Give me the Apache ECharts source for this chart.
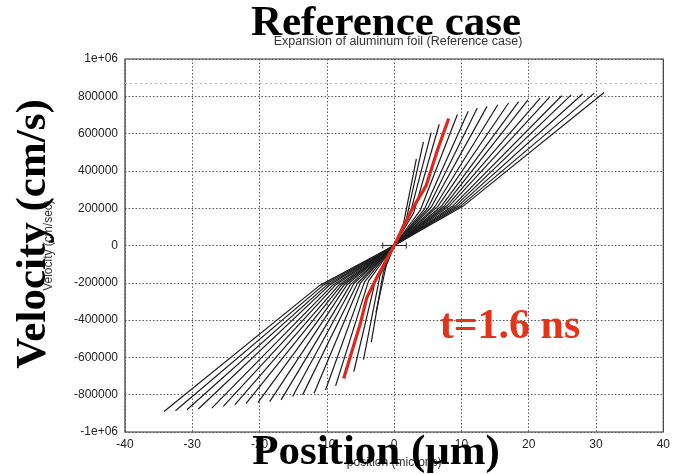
<!DOCTYPE html>
<html>
<head>
<meta charset="utf-8">
<script src="https://cdn.jsdelivr.net/npm/echarts@6/dist/echarts.min.js"></script>
<style>
html,body{margin:0;padding:0;background:#fff;}
#chart{width:673px;height:474px;}
</style>
</head>
<body>
<div id="chart"></div>
<script>
// ---- Data ----
// Upper (positive) half-profiles: tip and knee points (position in microns, velocity in cm/s)
const posTipX  = [3.3, 4.35, 5.5, 6.7, 9.4, 11.0, 12.35, 13.8, 15.4, 17.0, 18.5, 19.9, 21.7, 23.1, 24.9, 26.3, 28.0, 29.75, 31.2];
const posTipV  = [465000, 555000, 605000, 650000, 702000, 720000, 737000, 746000, 755000, 764000, 772000, 781000, 790000, 796000, 803000, 808000, 812000, 817000, 820000];
const posKneeX = [1.4, 1.8, 2.3, 2.9, 3.9, 4.5, 5.0, 5.5, 6.0, 6.5, 7.0, 7.4, 7.9, 8.3, 8.8, 9.2, 9.6, 10.0, 10.4];
const posKneeV = [120000, 140000, 160000, 175000, 190000, 195000, 200000, 205000, 205000, 210000, 210000, 210000, 215000, 215000, 215000, 215000, 215000, 215000, 215000];
// Lower (negative) half-profiles
const negTipX  = [-2.7, -3.4, -4.56, -6.0, -8.7, -10.2, -11.9, -13.6, -15.1, -16.8, -18.5, -20.25, -22.0, -23.7, -25.4, -27.1, -29.1, -30.8, -32.5, -34.2];
const negTipV  = [-359000, -518000, -612000, -677000, -753000, -775000, -792000, -801000, -810000, -828000, -837000, -842000, -846000, -854000, -863000, -872000, -877000, -881000, -886000, -890000];
const negKneeX = [-1.2, -1.6, -2.1, -2.7, -3.8, -4.4, -5.0, -5.5, -6.0, -6.5, -7.0, -7.4, -7.9, -8.3, -8.8, -9.2, -9.7, -10.1, -10.6, -11.1];
const negKneeV = [-110000, -140000, -160000, -175000, -190000, -195000, -200000, -205000, -205000, -210000, -210000, -210000, -215000, -215000, -215000, -215000, -215000, -215000, -215000, -215000];
// Highlighted profile at t = 1.6 ns
const redX = [-7.5, -5.05, -4.07, -2.6, 0, 2.6, 4.75, 6.47, 8.1];
const redV = [-713000, -421000, -280000, -173000, 0, 190000, 321000, 516000, 681000];
// Small origin marker
const originMarkX = [-1.7, 1.8];
const originMarkV = [0, 0];
// Axis ticks
const xTicks = [-40, -30, -20, -10, 0, 10, 20, 30, 40];
const yTicks = [-1000000, -800000, -600000, -400000, -200000, 0, 200000, 400000, 600000, 800000, 1000000];

const chart = echarts.init(document.getElementById('chart'), null, {renderer: 'canvas'});

const series = [];
const lineStyleBlack = {color: '#1c1c1c', width: 1.2};
posTipX.forEach((tx, i) => {
  series.push({type: 'line', symbol: 'none', silent: true, animation: false,
    lineStyle: lineStyleBlack,
    data: [[0, 0], [posKneeX[i], posKneeV[i]], [tx, posTipV[i]]]});
});
negTipX.forEach((tx, i) => {
  series.push({type: 'line', symbol: 'none', silent: true, animation: false,
    lineStyle: lineStyleBlack,
    data: [[tx, negTipV[i]], [negKneeX[i], negKneeV[i]], [0, 0]]});
});
series.push({type: 'line', symbol: 'none', silent: true, animation: false, z: 5,
  lineStyle: {color: '#e3261b', width: 3.2},
  data: redX.map((x, i) => [x, redV[i]])});
series.push({type: 'line', symbol: 'rect', symbolSize: [1, 6], silent: true, animation: false,
  itemStyle: {color: '#222'}, lineStyle: {color: '#222', width: 1},
  data: originMarkX.map((x, i) => [x, originMarkV[i]]),
  markLine: {silent: true, symbol: 'none', animation: false, label: {show: false},
    lineStyle: {color: '#bbb', type: [2, 3], width: 1},
    data: [{yAxis: 870000}]}});

const sans = 'Liberation Sans, Arial, sans-serif';
const serif = 'Liberation Serif, Times New Roman, serif';

chart.setOption({
  backgroundColor: '#fff',
  animation: false,
  grid: {left: 125, right: 5, top: 59, bottom: 39, show: true, borderColor: '#333', borderWidth: 1.2},
  xAxis: {
    type: 'value', min: xTicks[0], max: xTicks[xTicks.length - 1], interval: 10,
    name: 'position (microns)', nameLocation: 'middle', nameGap: 25,
    nameTextStyle: {fontFamily: sans, fontSize: 12, color: '#333'},
    axisLine: {show: false}, axisTick: {show: false},
    axisLabel: {margin: 7, fontFamily: sans, fontSize: 12, color: '#222'},
    splitLine: {show: true, lineStyle: {color: '#555', type: [1.5, 2], width: 1}}
  },
  yAxis: {
    type: 'value', min: yTicks[0], max: yTicks[yTicks.length - 1], interval: 200000,
    name: 'Velocity (cm/sec)', nameLocation: 'middle', nameGap: 70,
    nameTextStyle: {fontFamily: sans, fontSize: 12, color: '#333'},
    axisLine: {show: false}, axisTick: {show: false},
    axisLabel: {margin: 7, fontFamily: sans, fontSize: 12, color: '#222',
      formatter: v => (Math.abs(v) === 1000000 ? (v < 0 ? '-1e+06' : '1e+06') : String(v))},
    splitLine: {show: true, lineStyle: {color: '#555', type: [1.5, 2], width: 1}}
  },
  graphic: [
    {type: 'text', x: 398, y: 42, z: 10, style: {text: 'Expansion of aluminum foil (Reference case)', font: '12.5px ' + sans, fill: '#333', align: 'center', verticalAlign: 'middle'}},
    {type: 'text', x: 386, y: 24, z: 20, style: {text: 'Reference case', font: 'bold 43px ' + serif, fill: '#000', align: 'center', verticalAlign: 'middle'}},
    {type: 'text', x: 34, y: 234, rotation: Math.PI / 2, z: 20, style: {text: 'Velocity (cm/s)', font: 'bold 43px ' + serif, fill: '#000', align: 'center', verticalAlign: 'middle'}},
    {type: 'text', x: 376, y: 453, z: 20, style: {text: 'Position (μm)', font: 'bold 43px ' + serif, fill: '#000', align: 'center', verticalAlign: 'middle'}},
    {type: 'text', x: 510, y: 327, z: 20, style: {text: 't=1.6 ns', font: 'bold 42px ' + serif, fill: '#e3341a', align: 'center', verticalAlign: 'middle'}}
  ],
  series: series
});
</script>
</body>
</html>
